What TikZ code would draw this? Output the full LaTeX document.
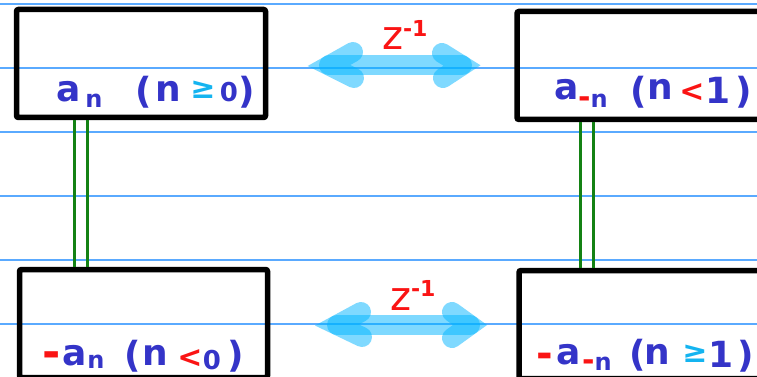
\documentclass[tikz,border=0pt]{standalone}
\usepackage{fontspec}
\setmainfont{DejaVu Sans}
\definecolor{rulec}{RGB}{90,170,255}
\definecolor{ink}{RGB}{52,52,200}
\definecolor{redink}{RGB}{250,20,20}
\definecolor{cyanink}{RGB}{20,180,240}
\definecolor{arrowc}{RGB}{0,180,255}
\definecolor{greenink}{RGB}{20,130,20}
\newcommand{\reddash}{{\fontsize{30}{30}\selectfont\color{redink}-}}
\begin{document}
\begin{tikzpicture}[x=1pt,y=-1pt,
  ruling/.style={rulec, line width=1.5pt},
  panel/.style={draw=black, line width=5.5pt, rounded corners=2pt, minimum width=249pt, minimum height=108pt, inner sep=0pt, outer sep=0pt},
  link/.style={greenink, line width=3pt, shorten <=2.75pt, shorten >=2.75pt},
  glyph/.style={inner sep=0pt, outer sep=0pt, anchor=base, ink, font=\fontsize{36}{40}\selectfont\bfseries},
  subg/.style={glyph, font=\fontsize{24}{28}\selectfont\bfseries},
  signg/.style={inner sep=0pt, outer sep=0pt, anchor=center, font=\fontsize{30}{32}\selectfont\bfseries},
  dashg/.style={inner sep=0pt, outer sep=0pt, anchor=center, redink, font=\fontsize{40}{42}\selectfont\bfseries},
  zero/.style={glyph, font=\fontsize{26}{30}\selectfont\bfseries},
  shiftarrow/.style={arrowc, opacity=0.5, line width=20pt, line cap=round},
  zlab/.style={inner sep=0pt, outer sep=0pt, anchor=base, redink, font=\fontsize{40}{44}\selectfont},
  zexp/.style={inner sep=0pt, outer sep=0pt, anchor=base west, redink, font=\fontsize{22}{24}\selectfont\bfseries}
]
\useasboundingbox (0,0) rectangle (757,377);
\clip (0,0) rectangle (757,377);
% ruled paper
\foreach \yy in {4,68,132,196,260,324}
  \draw[ruling] (0,\yy) -- (757,\yy);
% panels
\node[panel] (tl) at (141,63.5) {};
\node[panel, minimum width=253pt] (tr) at (643.5,65.5) {};
\node[panel, minimum width=248pt] (bl) at (143.5,323.5) {};
\node[panel, minimum width=253pt] (br) at (645.5,324.5) {};
% green double links
\draw[link] (tl.south -| 74,0) -- (bl.north -| 74,0);
\draw[link] (tl.south -| 87,0) -- (bl.north -| 87,0);
\draw[link] (tr.south -| 580,0) -- (br.north -| 580,0);
\draw[link] (tr.south -| 593,0) -- (br.north -| 593,0);
% top shift arrow
\coordinate (ta1) at (329,65.5);
\coordinate (ta2) at (462,65.5);
\coordinate (ta1u) at (353,52);
\coordinate (ta1d) at (354,78);
\coordinate (ta2u) at (442,53);
\coordinate (ta2d) at (443,78);
\draw[shiftarrow] (ta1) -- (ta2);
\draw[shiftarrow] (ta1u) -- (ta1) -- (ta1d);
\draw[shiftarrow] (ta2u) -- (ta2) -- (ta2d);
\node[zlab] (tz) at (393,50) {z};
\node[zexp] (tze) at (403,37) {-1};
% bottom shift arrow
\coordinate (ba1) at (337,325);
\coordinate (ba2) at (470,325);
\coordinate (ba1u) at (361,312);
\coordinate (ba1d) at (362,337);
\coordinate (ba2u) at (452,312);
\coordinate (ba2d) at (452,338);
\draw[shiftarrow] (ba1) -- (ba2);
\draw[shiftarrow] (ba1u) -- (ba1) -- (ba1d);
\draw[shiftarrow] (ba2u) -- (ba2) -- (ba2d);
\node[zlab] (bz) at (401,310) {z};
\node[zexp] (bze) at (411,296) {-1};
% top-left text: a_n (n >= 0)
\node[glyph] (tla) at (68.5,102) {a};
\node[subg] (tln) at (94,108) {n};
\node[glyph] (tlp) at (144,103) {(};
\node[glyph] (tlnn) at (168.5,102) {n};
\node[signg, cyanink] (tlge) at (203,90) {≥};
\node[zero] (tl0) at (229,102) {0};
\node[glyph] (tlq) at (247,103) {)};
% top-right text: a_{-n} (n < 1)
\node[glyph] (tra) at (566.5,100) {a};
\node[subg] (trn) at (593,107) {\reddash n};
\node[glyph] (trp) at (639,103) {(};
\node[glyph] (trnn) at (660,100) {n};
\node[signg, redink] (trlt) at (692,93) {<};
\node[glyph] (tr1) at (718,103) {1};
\node[glyph] (trq) at (744,104) {)};
% bottom-left text: -a_n (n < 0)
\node[dashg, font=\fontsize{44}{46}\selectfont\bfseries] (blm) at (52,360) {-};
\node[glyph] (bla) at (75,365) {a};
\node[subg] (bln) at (96,368) {n};
\node[glyph] (blp) at (132.5,367) {(};
\node[glyph] (blnn) at (155,365) {n};
\node[signg, redink] (bllt) at (190,359) {<};
\node[zero] (bl0) at (212,369) {0};
\node[glyph] (blq) at (236,367) {)};
% bottom-right text: -a_{-n} (n >= 1)
\node[dashg] (brm) at (545,360) {-};
\node[glyph] (bra) at (569,364) {a};
\node[subg] (brn) at (597,370) {\reddash n};
\node[glyph] (brp) at (638,366) {(};
\node[glyph] (brnn) at (657.5,364) {n};
\node[signg, cyanink] (brge) at (695,354) {≥};
\node[glyph] (br1) at (721,367) {1};
\node[glyph] (brq) at (746,367) {)};
\end{tikzpicture}
\end{document}
